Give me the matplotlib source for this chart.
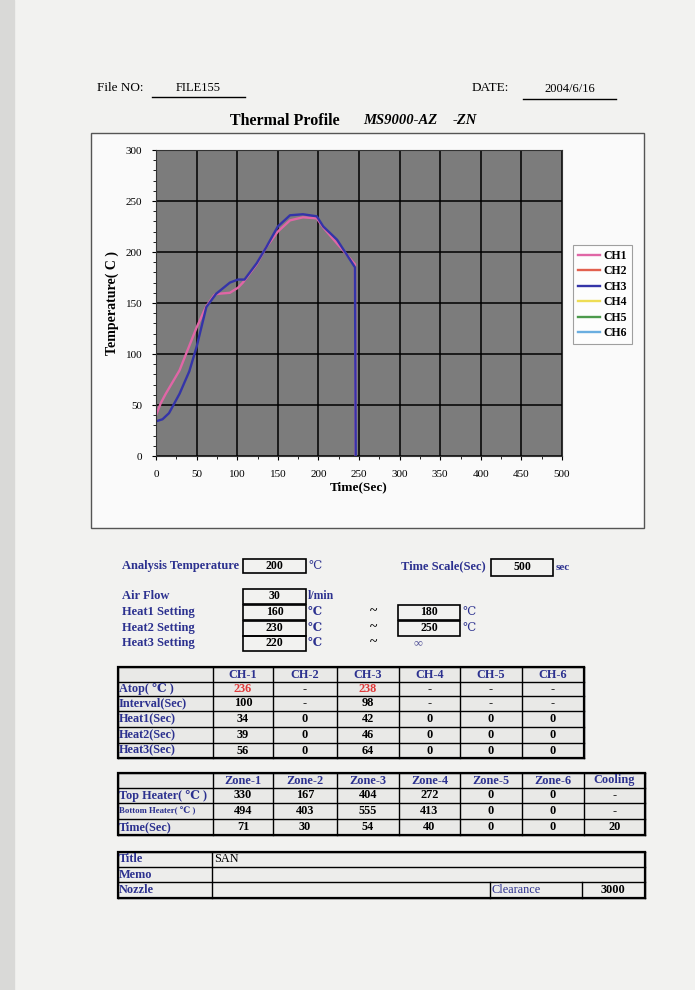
import numpy as np
import matplotlib
matplotlib.use("Agg")
import matplotlib.pyplot as plt
from matplotlib.patches import Rectangle

plt.rcParams['font.family'] = ['Liberation Serif', 'DejaVu Serif']

# --- data ---
ch1_t = [0, 6, 12, 29, 50, 62, 72, 76, 91, 101, 107, 124, 136, 150, 165, 181, 198, 206, 245, 246]
ch1_T = [40, 52, 61, 84, 126, 147, 158, 159, 160, 165, 170, 188, 205, 220, 231, 234, 233, 224, 188, 0]
ch3_t = [0, 8, 16, 29, 41, 50, 62, 74, 91, 101, 109, 124, 136, 150, 165, 181, 198, 206, 223, 245, 246]
ch3_T = [34, 36, 42, 61, 83, 107, 146, 159, 170, 173, 173, 189, 205, 225, 236, 237, 235, 225, 212, 185, 0]
channels = ['CH1', 'CH2', 'CH3', 'CH4', 'CH5', 'CH6']
ch_colors = ['#e066a6', '#e2604e', '#3434a8', '#eedd55', '#4c9a4c', '#6aaee0']

file_no = 'FILE155'
date = '2004/6/16'
analysis_temp = 200
time_scale = 500
air_flow = 30
heat_low = [160, 230, 220]
heat_high = ['180', '250', '∞']

ch_cols = ['CH-1', 'CH-2', 'CH-3', 'CH-4', 'CH-5', 'CH-6']
ch_rows = ['Atop( ℃ )', 'Interval(Sec)', 'Heat1(Sec)', 'Heat2(Sec)', 'Heat3(Sec)']
ch_vals = [['236', '-', '238', '-', '-', '-'],
           ['100', '-', '98', '-', '-', '-'],
           ['34', '0', '42', '0', '0', '0'],
           ['39', '0', '46', '0', '0', '0'],
           ['56', '0', '64', '0', '0', '0']]

zone_cols = ['Zone-1', 'Zone-2', 'Zone-3', 'Zone-4', 'Zone-5', 'Zone-6', 'Cooling']
zone_rows = ['Top Heater( ℃ )', 'Bottom Heater( ℃ )', 'Time(Sec)']
zone_vals = [['330', '167', '404', '272', '0', '0', '-'],
             ['494', '403', '555', '413', '0', '0', '-'],
             ['71', '30', '54', '40', '0', '0', '20']]

blue = '#2c318f'
W, H = 695, 990

fig = plt.figure(figsize=(W / 100, H / 100), dpi=100, facecolor='#f2f2f0')
doc = fig.add_axes([0, 0, 1, 1])
doc.set_xlim(0, W)
doc.set_ylim(H, 0)
doc.axis('off')
doc.add_patch(Rectangle((0, 0), 14, H, color='#d9d9d7', zorder=0))

# header
doc.text(97, 88, 'File NO:', fontsize=9.5, va='center')
doc.text(198, 88, file_no, fontsize=9, va='center', ha='center')
doc.plot([152, 245], [97, 97], color='k', lw=1)
doc.text(472, 88, 'DATE:', fontsize=9.5, va='center')
doc.text(570, 89, date, fontsize=9, va='center', ha='center')
doc.plot([523, 616], [99, 99], color='k', lw=1)
doc.text(230, 121, 'Thermal Profile', fontsize=11.5, weight='bold', va='center')
doc.text(363, 121, 'MS9000-AZ', fontsize=10.5, weight='bold', style='italic', va='center')
doc.text(453, 121, '-ZN', fontsize=10.5, weight='bold', style='italic', va='center')

# chart frame
doc.add_patch(Rectangle((91, 133), 553, 395, facecolor='#fafafa', edgecolor='#555555', lw=1))

ax = fig.add_axes([156 / W, 1 - 456 / H, 406 / W, 306 / H])
ax.set_facecolor('#7c7c7c')
lines = []
for name, col in zip(channels, ch_colors):
    if name == 'CH1':
        l, = ax.plot(ch1_t, ch1_T, color=col, lw=1.7)
    elif name == 'CH3':
        l, = ax.plot(ch3_t, ch3_T, color=col, lw=1.7)
    else:
        l, = ax.plot([], [], color=col, lw=1.7)
    lines.append(l)
ax.set_xlim(0, 500)
ax.set_ylim(0, 300)
ax.set_xticks(np.arange(0, 501, 50))
ax.set_yticks(np.arange(0, 301, 50))
ax.set_xticks(np.arange(0, 501, 25), minor=True)
ax.set_yticks(np.arange(0, 301, 10), minor=True)
ax.grid(True, which='major', color='black', lw=1.1)
ax.tick_params(which='major', labelsize=8, length=3, pad=7)
ax.tick_params(which='minor', length=2)
for s in ax.spines.values():
    s.set_color('#333333')
ax.set_xlabel('Time(Sec)', fontsize=9.5, weight='bold', labelpad=2)
ax.set_ylabel('Temperature( C )', fontsize=10, weight='bold', labelpad=5)
leg = ax.legend(lines, channels, loc='upper left', bbox_to_anchor=(573 / W, 1 - 245 / H),
                bbox_transform=fig.transFigure, prop={'size': 8.5, 'weight': 'bold'},
                frameon=True, fancybox=False, edgecolor='#888888', handlelength=1.9,
                labelspacing=0.3, borderpad=0.4, handletextpad=0.3, borderaxespad=0)
leg.get_frame().set_facecolor('white')
leg.get_frame().set_linewidth(0.8)


def box(x0, x1, y0, y1, text, lw=1.2):
    doc.add_patch(Rectangle((x0, y0), x1 - x0, y1 - y0, fill=False, edgecolor='k', lw=lw))
    doc.text((x0 + x1) / 2, (y0 + y1) / 2, text, fontsize=8.5, weight='bold', ha='center', va='center')


# settings
lab = dict(fontsize=9, weight='bold', color=blue, va='center')
doc.text(122, 566, 'Analysis Temperature', **lab)
box(243, 306, 559, 573, str(analysis_temp))
doc.text(308, 566, '℃', fontsize=8.5, color=blue, va='center')
doc.text(401, 566, 'Time Scale(Sec)', **lab)
box(491, 553, 559, 576, str(time_scale))
doc.text(556, 567, 'sec', fontsize=8, weight='bold', color=blue, va='center')

set_y = [596, 612, 628, 643]
set_names = ['Air Flow', 'Heat1 Setting', 'Heat2 Setting', 'Heat3 Setting']
set_vals = [air_flow] + heat_low
for i, (nm, v) in enumerate(zip(set_names, set_vals)):
    y = set_y[i]
    doc.text(122, y, nm, **lab)
    box(243, 306, y - 7.5, y + 7.5, str(v))
    doc.text(308, y, 'l/min' if i == 0 else '℃', fontsize=8.5, color=blue, weight='bold', va='center')
    if i > 0:
        doc.text(370, y, '~', fontsize=10, weight='bold', va='center')
        hv = heat_high[i - 1]
        if hv == '∞':
            doc.text(414, y, hv, fontsize=9, color='#555599', va='center')
        else:
            box(398, 460, y - 7.5, y + 7.5, hv)
            doc.text(462, y, '℃', fontsize=8.5, color=blue, va='center')


def grid_table(xs, ys, lw_out=1.6, lw_in=1.0):
    for x in xs:
        doc.plot([x, x], [ys[0], ys[-1]], color='k', lw=lw_in, zorder=3)
    for y in ys:
        doc.plot([xs[0], xs[-1]], [y, y], color='k', lw=lw_in, zorder=3)
    doc.add_patch(Rectangle((xs[0], ys[0]), xs[-1] - xs[0], ys[-1] - ys[0], fill=False,
                            edgecolor='k', lw=lw_out, zorder=4))


cell = dict(fontsize=8.8, weight='bold', ha='center', va='center', zorder=5)
rowlab = dict(fontsize=8.8, weight='bold', color=blue, va='center', zorder=5)

# channel table
cx = [118, 213, 273, 337, 399, 460, 522, 584]
cy = [667, 682, 696, 711, 727, 743, 758]
doc.add_patch(Rectangle((cx[0], cy[0]), cx[-1] - cx[0], cy[-1] - cy[0], color='#e9e9e7', zorder=1))
grid_table(cx, cy)
for j, c in enumerate(ch_cols):
    doc.text((cx[j + 1] + cx[j + 2]) / 2, (cy[0] + cy[1]) / 2, c, color=blue, **cell)
for i, r in enumerate(ch_rows):
    ym = (cy[i + 1] + cy[i + 2]) / 2
    doc.text(cx[0] + 1, ym, r, **rowlab)
    for j, v in enumerate(ch_vals[i]):
        col = '#e03a3a' if i == 0 and v != '-' else 'k'
        doc.text((cx[j + 1] + cx[j + 2]) / 2, ym, v, color=col, **cell)

# zone table
zx = [118, 213, 273, 337, 399, 460, 522, 584, 645]
zy = [773, 788, 803, 819, 835]
doc.add_patch(Rectangle((zx[0], zy[0]), zx[-1] - zx[0], zy[-1] - zy[0], color='#e9e9e7', zorder=1))
grid_table(zx, zy)
for j, c in enumerate(zone_cols):
    doc.text((zx[j + 1] + zx[j + 2]) / 2, (zy[0] + zy[1]) / 2, c, color=blue, **cell)
for i, r in enumerate(zone_rows):
    ym = (zy[i + 1] + zy[i + 2]) / 2
    doc.text(zx[0] + 1, ym, r, fontsize=6.3 if i == 1 else 8.8, weight='bold', color=blue,
             va='center', zorder=5)
    for j, v in enumerate(zone_vals[i]):
        doc.text((zx[j + 1] + zx[j + 2]) / 2, ym, v, color='k', **cell)

# title / memo / nozzle table
by = [852, 867, 882, 898]
doc.add_patch(Rectangle((118, by[0]), 527, by[-1] - by[0], color='#ededeb', zorder=1))
for y in by:
    doc.plot([118, 645], [y, y], color='k', lw=1.0, zorder=3)
for x in [118, 212, 645]:
    doc.plot([x, x], [by[0], by[-1]], color='k', lw=1.0, zorder=3)
for x in [490, 582]:
    doc.plot([x, x], [by[2], by[3]], color='k', lw=1.0, zorder=3)
doc.add_patch(Rectangle((118, by[0]), 527, by[-1] - by[0], fill=False, edgecolor='k', lw=1.6, zorder=4))
for i, r in enumerate(['Title', 'Memo', 'Nozzle']):
    doc.text(119, (by[i] + by[i + 1]) / 2, r, **rowlab)
doc.text(214, (by[0] + by[1]) / 2, 'SAN', fontsize=8.8, va='center', zorder=5)
doc.text(492, (by[2] + by[3]) / 2, 'Clearance', fontsize=8.8, color=blue, va='center', zorder=5)
doc.text(613, (by[2] + by[3]) / 2, '3000', **cell)

fig.savefig('out.png', dpi=100, facecolor=fig.get_facecolor())
